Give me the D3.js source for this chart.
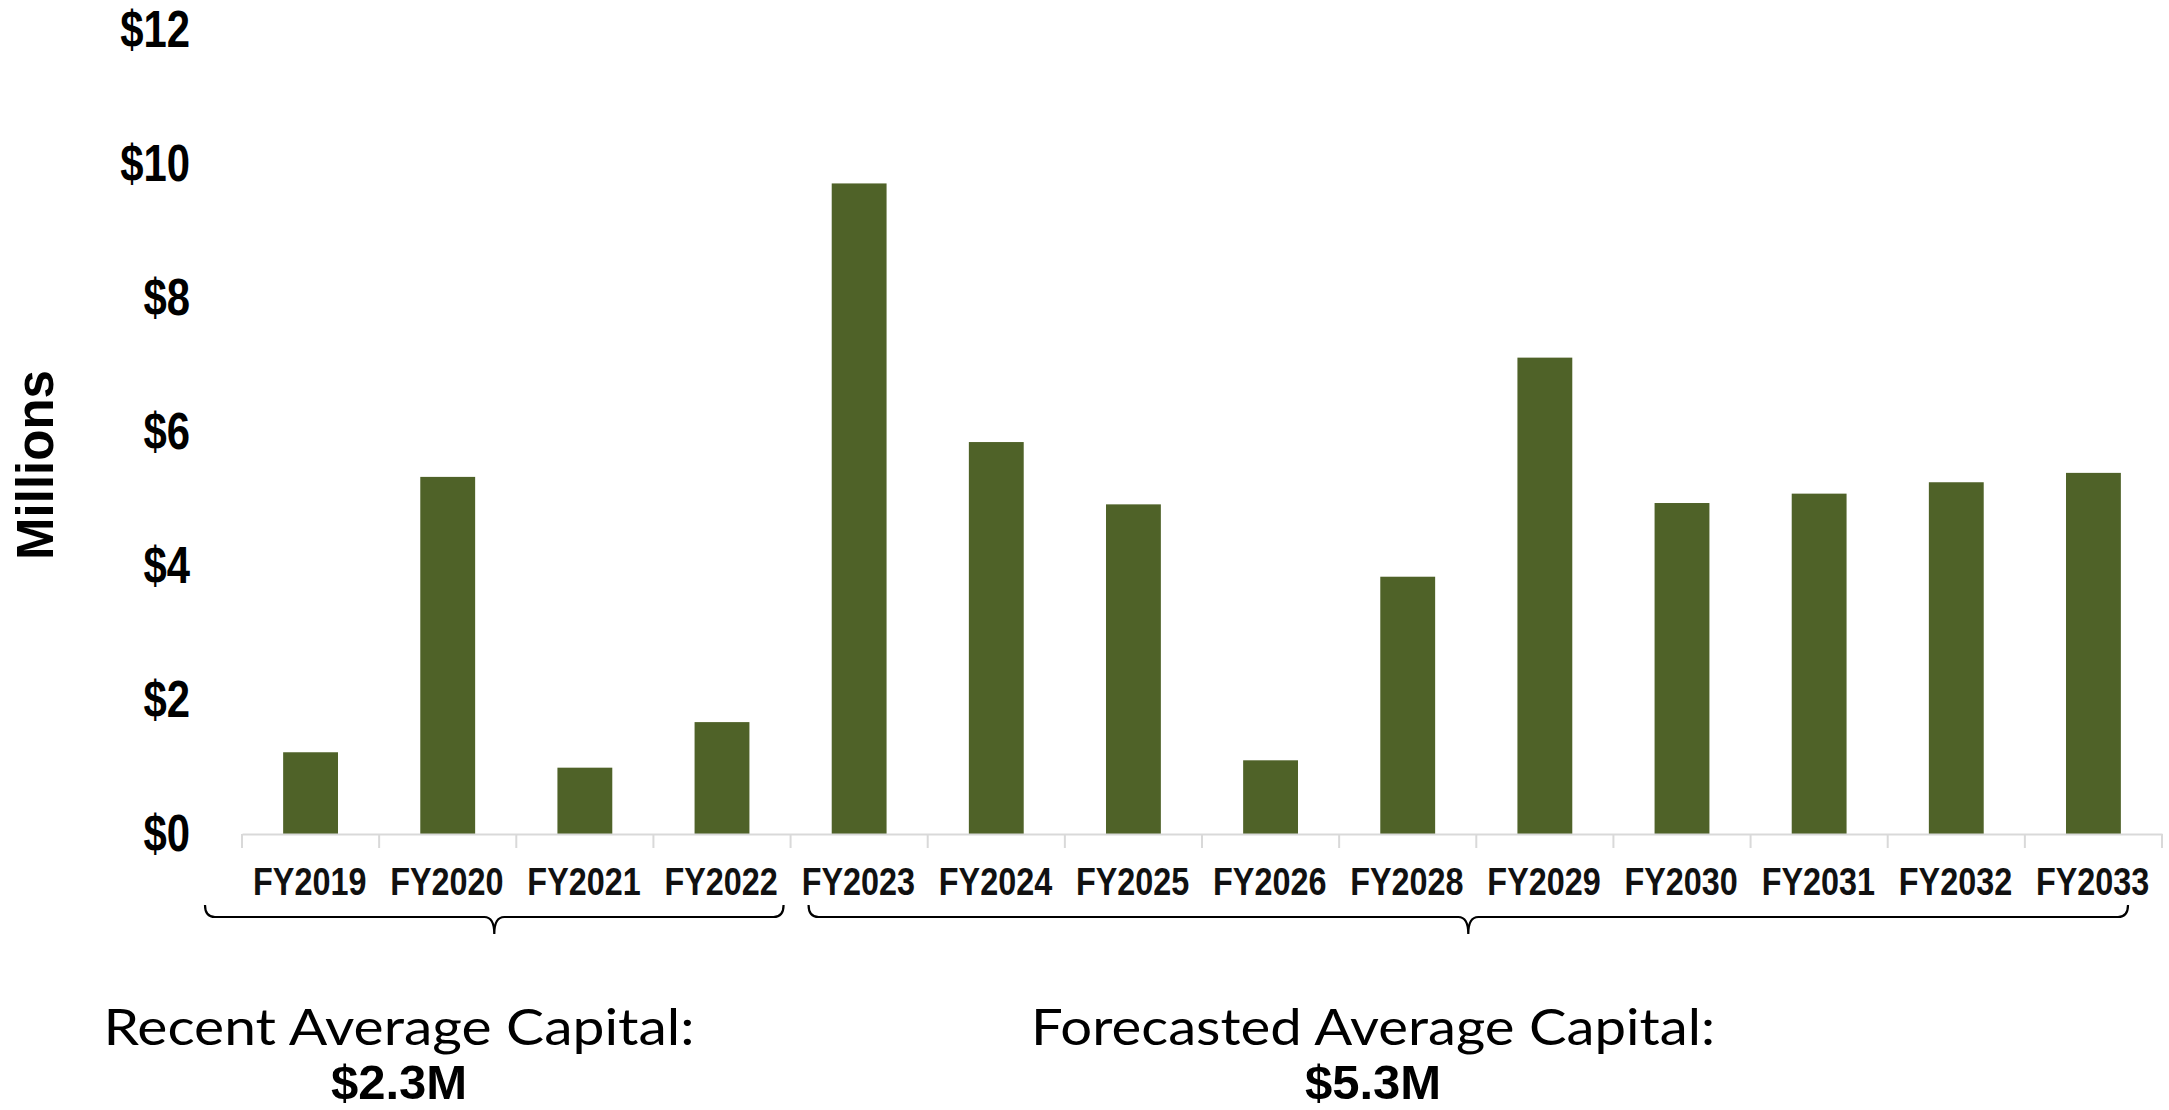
<!DOCTYPE html>
<html>
<head>
<meta charset="utf-8">
<script src="https://cdn.jsdelivr.net/npm/d3@7"></script>
<style>
  html, body { margin: 0; padding: 0; background: #fff; overflow: hidden; }
  svg { display: block; }
  .narrow { font-family: "Liberation Sans Narrow", "Arial Narrow", "Liberation Sans", Arial, sans-serif; font-weight: bold; }
  .note { font-family: Lato, "Open Sans", sans-serif; font-weight: 400; }
</style>
</head>
<body>
<svg id="chart" width="2169" height="1110"></svg>
<script>
// Capital spend by fiscal year ($ millions)
const years = ['FY2019', 'FY2020', 'FY2021', 'FY2022', 'FY2023', 'FY2024', 'FY2025',
  'FY2026', 'FY2028', 'FY2029', 'FY2030', 'FY2031', 'FY2032', 'FY2033'];
const capital = [1.22, 5.33, 0.99, 1.67, 9.71, 5.85, 4.92, 1.10, 3.84, 7.11, 4.94, 5.08, 5.25, 5.39];
const yTicks = [0, 2, 4, 6, 8, 10, 12];
const groups = [
  { first: 'FY2019', last: 'FY2022', label: 'Recent Average Capital:', avg: '$2.3M' },
  { first: 'FY2023', last: 'FY2033', label: 'Forecasted Average Capital:', avg: '$5.3M' }
];

const svg = d3.select('#chart');
const plotLeft = 242, plotRight = 2162, plotTop = 30, plotBase = 834;

const x = d3.scaleBand().domain(years).range([plotLeft, plotRight]).padding(0);
const y = d3.scaleLinear().domain([0, 12]).range([plotBase, plotTop]);

// squeeze text horizontally (no narrow font installed)
function condense(sel, k) {
  sel.each(function() {
    const len = this.getComputedTextLength();
    d3.select(this).attr('textLength', len * k).attr('lengthAdjust', 'spacingAndGlyphs');
  });
}

// Y axis labels
const yAxis = d3.axisLeft(y).tickValues(yTicks).tickFormat(d => `$${d}`).tickSize(0).tickPadding(52);
const gy = svg.append('g').attr('transform', `translate(${plotLeft},0)`).call(yAxis);
gy.select('.domain').remove();
gy.selectAll('text')
  .attr('class', 'narrow')
  .attr('font-size', 51)
  .attr('fill', '#000')
  .call(condense, 0.82);

// Y title
svg.append('text')
  .attr('transform', 'translate(53,465) rotate(-90)')
  .attr('text-anchor', 'middle')
  .attr('font-family', '"Liberation Sans", Arial, sans-serif')
  .attr('font-weight', 'bold')
  .attr('font-size', 51)
  .text('Millions');

// Bars
const barW = x.bandwidth() * 0.4;
svg.append('g').selectAll('rect')
  .data(years)
  .join('rect')
  .attr('x', d => x(d) + (x.bandwidth() - barW) / 2)
  .attr('y', (d, i) => y(capital[i]))
  .attr('width', barW)
  .attr('height', (d, i) => y(0) - y(capital[i]))
  .attr('fill', '#4f6228');

// X axis
const xAxis = d3.axisBottom(x).tickSize(0).tickSizeOuter(0);
const gx = svg.append('g').attr('transform', `translate(0,${plotBase})`).call(xAxis);
gx.select('.domain').attr('stroke', '#d9d9d9').attr('stroke-width', 2);
gx.selectAll('text')
  .attr('class', 'narrow')
  .attr('font-size', 39)
  .attr('fill', '#111')
  .attr('x', -1)
  .attr('y', 47)
  .attr('dy', '0.35em')
  .attr('transform', 'scale(0.83,1)');

// boundary tick marks
gx.append('g').selectAll('line')
  .data(d3.range(years.length + 1))
  .join('line')
  .attr('x1', i => plotLeft + i * x.step())
  .attr('x2', i => plotLeft + i * x.step())
  .attr('y1', 0)
  .attr('y2', 14)
  .attr('stroke', '#d9d9d9')
  .attr('stroke-width', 2);

// Braces and averages
const offsets = [[-37, -7], [18, -34]];
groups.forEach((g, k) => {
  const x0 = x(g.first) + offsets[k][0];
  const x1 = x(g.last) + x.bandwidth() + offsets[k][1];
  const xm = (x0 + x1) / 2;
  const y0 = 905, y1 = 917, y2 = 934, r = 10;
  svg.append('path')
    .attr('d', `M${x0},${y0} Q${x0},${y1} ${x0 + r},${y1} L${xm - r},${y1} Q${xm},${y1} ${xm},${y2}` +
      ` Q${xm},${y1} ${xm + r},${y1} L${x1 - r},${y1} Q${x1},${y1} ${x1},${y0}`)
    .attr('fill', 'none')
    .attr('stroke', '#000')
    .attr('stroke-width', 2.2);
});

const noteX = [399, 1373];
const noteW = [591, 684];
groups.forEach((g, k) => {
  svg.append('text')
    .attr('class', 'note')
    .attr('x', noteX[k])
    .attr('y', 1045)
    .attr('text-anchor', 'middle')
    .attr('font-size', 50)
    .attr('textLength', noteW[k])
    .attr('lengthAdjust', 'spacingAndGlyphs')
    .text(g.label);
  svg.append('text')
    .attr('class', 'narrow')
    .attr('x', noteX[k])
    .attr('y', 1099)
    .attr('text-anchor', 'middle')
    .attr('font-size', 49)
    .text(g.avg);
});
</script>
</body>
</html>
